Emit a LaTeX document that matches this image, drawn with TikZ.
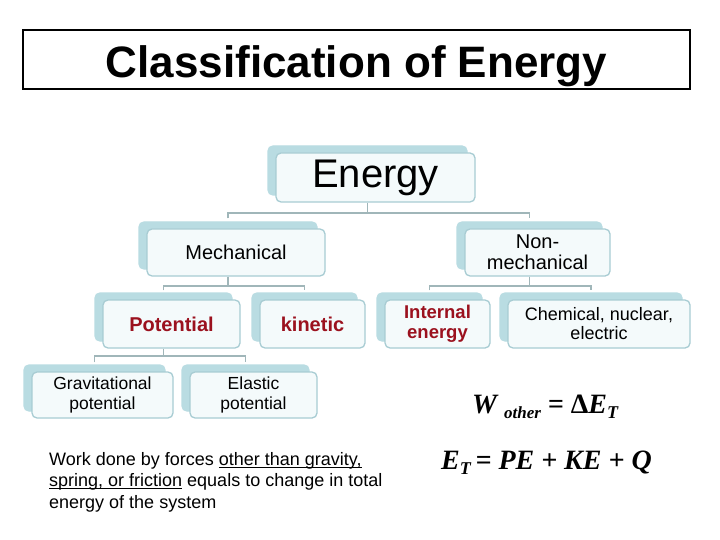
\documentclass[tikz,border=0pt]{standalone}
\usepackage{fontspec}
\setmainfont{Liberation Sans}
\newfontfamily\eqfont{Liberation Serif}
\usepackage{tikz}
\usetikzlibrary{
  shadows,
  calc
}
\definecolor{enBack}{HTML}{B9DCE2}
\definecolor{enFront}{HTML}{F4FAFB}
\definecolor{enEdge}{HTML}{A8CCD3}
\definecolor{enLine}{HTML}{A0B6B9}
\definecolor{enRed}{HTML}{9B111E}
\newcommand{\fsz}[2]{\fontsize{#1}{#2}\selectfont}
\newcommand{\enul}[1]{\setbox0\hbox{#1}\rlap{\rule[-2.6pt]{\wd0}{0.9pt}}\box0\relax}
\tikzset{
  ennode/.style={
    draw=enEdge, fill=enFront, line width=1.3pt, rounded corners=5pt,
    align=center, inner sep=0pt,
    copy shadow={shadow xshift=-8pt, shadow yshift=7pt, fill=enBack, draw=enBack}
  },
  toplevel/.style={ennode, minimum height=49pt, font=\fsz{40}{44}},
  catbox/.style={ennode, minimum height=47pt, font=\fsz{20}{21}},
  formbox/.style={ennode, minimum height=48pt, font=\fsz{18}{19}},
  redbox/.style={formbox, text=enRed, font=\bfseries\fsz{20}{21}},
  subbox/.style={ennode, minimum height=46pt, font=\fsz{17.5}{20}},
  titlebox/.style={
    draw=black, line width=1.3pt, minimum width=667pt, minimum height=59pt,
    text height=40pt, text depth=3pt, font=\bfseries\fsz{44}{48}
  },
  link/.style={draw=enLine, line width=1.8pt},
  eqtext/.style={font=\eqfont\bfseries\itshape\fsz{28}{30}, inner sep=0pt, anchor=base west}
}

\begin{document}
\begin{tikzpicture}[x=1pt, y=-1pt]
  \path[use as bounding box, fill=white] (0,0) rectangle (720,540);

  \node[titlebox] (title) at (356.5,59.5) {Classification of Energy};

  % tree boxes
  \node[toplevel, minimum width=199pt] (energy) at (375.5,177.5) {Energy};
  \node[catbox, minimum width=178pt] (mech) at (236,252.5) {Mechanical};
  \node[catbox, minimum width=145pt] (nonmech) at (537.5,252.5) {Non-\\mechanical};
  \node[redbox, minimum width=137pt] (pot) at (171.5,324) {Potential};
  \node[redbox, minimum width=105pt] (kin) at (312.5,324) {kinetic};
  \node[redbox, minimum width=105pt, font=\bfseries\fsz{18.5}{20}] (intern) at (437.5,324) {Internal\\energy};
  \node[formbox, minimum width=182pt] (chem) at (599,324) {Chemical, nuclear,\\electric};
  \node[subbox, minimum width=141pt] (grav) at (102.5,395) {Gravitational\\potential};
  \node[subbox, minimum width=127pt] (elastic) at (253.5,395) {Elastic\\potential};

  % connectors
  \draw[link] ([xshift=-8pt]energy.south) -- ++(0,10) coordinate (fork1);
  \draw[link] ([xshift=-8pt,yshift=10pt]mech.north) |- (fork1) -| ([xshift=-8pt,yshift=10pt]nonmech.north);
  \draw[link] ([xshift=-8pt]mech.south) -- ++(0,9) coordinate (fork2);
  \draw[link] ([xshift=-8pt,yshift=9pt]pot.north) |- (fork2) -| ([xshift=-8pt,yshift=9pt]kin.north);
  \draw[link] ([xshift=-8pt]nonmech.south) -- ++(0,9) coordinate (fork3);
  \draw[link] ([xshift=-8pt,yshift=9pt]intern.north) |- (fork3) -| ([xshift=-8pt,yshift=9pt]chem.north);
  \draw[link] ([xshift=-8pt]pot.south) -- ++(0,7) coordinate (fork4);
  \draw[link] ([xshift=-8pt,yshift=9pt]grav.north) |- (fork4) -| ([xshift=-8pt,yshift=9pt]elastic.north);

  % note and equations
  \node[anchor=north west, inner sep=0pt, align=left, font=\fsz{18}{21.5}] (note) at (49,452)
    {Work done by forces \enul{other than gravity,}\\
     \enul{spring, or friction} equals to change in total\\
     energy of the system};
  \node[eqtext] (work) at (472,413)
    {W\hspace{7pt}\raisebox{-5pt}{\fsz{17}{17}other} = {\upshape Δ}E\raisebox{-5pt}{\fsz{18}{18}T}};
  \node[eqtext] (total) at (441,469)
    {E\raisebox{-5pt}{\fsz{18}{18}T}\,= PE + KE + Q};
\end{tikzpicture}
\end{document}
